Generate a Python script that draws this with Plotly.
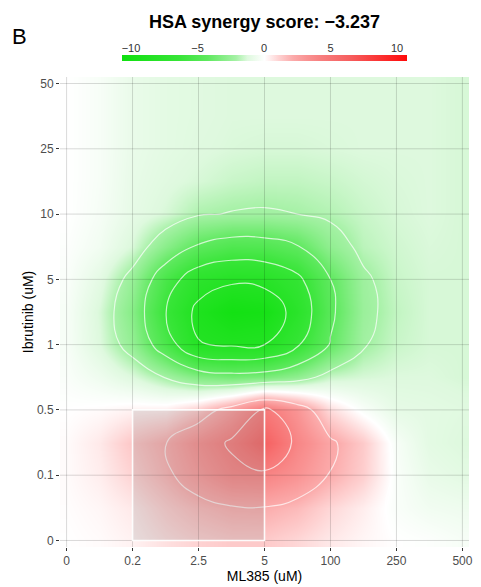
import plotly.graph_objects as go

# Tested concentrations (uM)
ml385 = ["0", "0.2", "2.5", "5", "100", "250", "500"]
ibrutinib = ["0", "0.1", "0.5", "1", "5", "10", "25", "50"]

hsa_score = -3.237

# Synergy surface sampled at half-steps between the tested doses
x_steps = [0, 0.5, 1, 1.5, 2, 2.5, 3, 3.5, 4, 4.5, 5, 5.5, 6]
y_steps = [0, 0.5, 1, 1.5, 2, 2.5, 3, 3.5, 4, 4.5, 5, 5.5, 6, 6.5, 7]
synergy = [
    [0.0, 0.1, 0.3, 0.7, 1.0, 1.2, 1.2, 0.9, 0.5, 0.2, 0.0, -0.1, -0.3],
    [0.05, 0.2, 0.5, 1.1, 1.6, 1.9, 1.95, 1.6, 0.9, 0.4, -0.2, -0.5, -0.6],
    [0.1, 0.4, 1.0, 1.75, 2.7, 3.6, 3.7, 3.0, 1.95, 1.1, -0.2, -0.8, -1.0],
    [0.1, 0.5, 1.3, 1.95, 3.2, 4.2, 5.8, 3.6, 2.2, 1.2, -0.3, -1.0, -1.2],
    [0.0, 0.1, 0.3, 0.4, 1.2, 2.6, 4.3, 2.9, 0.8, -0.2, -0.9, -1.0, -1.1],
    [-0.2, -0.6, -1.2, -2.05, -3.0, -3.4, -3.2, -2.6, -1.5, -1.3, -1.2, -1.2, -1.3],
    [-0.3, -1.2, -2.5, -5.0, -7.9, -8.2, -8.0, -6.2, -3.9, -2.1, -1.5, -1.3, -1.3],
    [-0.3, -1.3, -2.9, -5.95, -8.5, -9.6, -9.3, -7.3, -4.3, -2.3, -1.6, -1.3, -1.3],
    [-0.2, -1.0, -2.4, -5.1, -7.1, -7.7, -7.5, -6.4, -4.0, -2.2, -1.5, -1.3, -1.3],
    [-0.1, -0.5, -1.3, -2.8, -4.2, -4.8, -4.7, -4.1, -2.6, -1.7, -1.4, -1.25, -1.3],
    [0.0, -0.35, -0.9, -1.3, -1.9, -2.05, -2.1, -2.0, -1.8, -1.5, -1.3, -1.2, -1.3],
    [0.0, -0.3, -0.85, -1.1, -1.3, -1.5, -1.6, -1.6, -1.5, -1.35, -1.25, -1.2, -1.3],
    [0.0, -0.3, -0.8, -1.0, -1.15, -1.25, -1.3, -1.3, -1.25, -1.2, -1.2, -1.2, -1.3],
    [0.0, -0.3, -0.8, -1.0, -1.1, -1.2, -1.2, -1.2, -1.2, -1.2, -1.2, -1.2, -1.3],
    [0.0, -0.3, -0.8, -1.0, -1.1, -1.2, -1.2, -1.2, -1.2, -1.2, -1.2, -1.2, -1.3],
]

# Most synergistic area
box_x = ("0.2", "5")
box_y = ("0", "0.5")

bar_ticks = [-10, -5, 0, 5, 10]

colorscale = [
    [0.0, "rgb(15,224,15)"],
    [0.2, "rgb(55,229,55)"],
    [0.3, "rgb(95,233,95)"],
    [0.4, "rgb(165,241,165)"],
    [0.44, "rgb(222,249,222)"],
    [0.5, "rgb(255,255,255)"],
    [0.55, "rgb(254,210,210)"],
    [0.6, "rgb(251,170,170)"],
    [0.65, "rgb(249,146,146)"],
    [0.7, "rgb(247,126,126)"],
    [0.8, "rgb(246,94,94)"],
    [1.0, "rgb(255,10,10)"],
]

FONT = "Liberation Sans, Arial, sans-serif"
W, H = 481, 587
ML, MR, MT, MB = 60, 6, 20, 40
plot_h = H - MT - MB
plot_w = W - ML - MR
panel_top_px = 77          # top of the heatmap panel
panel_frac = (H - MB - panel_top_px) / plot_h


def py(px_from_top):
    return (H - MB - px_from_top) / plot_h


def px_x(px_from_left):
    return (px_from_left - ML) / plot_w


fig = go.Figure()

fig.add_trace(go.Heatmap(
    x=x_steps, y=y_steps, z=synergy,
    zsmooth="best", zmin=-10, zmax=10,
    colorscale=colorscale,
    hoverinfo="skip",
    colorbar=dict(
        orientation="h",
        thickness=6,
        len=285, lenmode="pixels",
        x=0.5, xanchor="center",
        y=py(58), yanchor="middle",
        xpad=0, ypad=0,
        outlinewidth=0,
        showticklabels=False,
        ticks="",
    ),
))

fig.add_trace(go.Contour(
    x=x_steps, y=y_steps, z=synergy,
    contours=dict(start=-8, end=8, size=2, coloring="none"),
    line=dict(color="rgba(255,255,255,0.7)", width=1.2, smoothing=1.3),
    showscale=False,
    hoverinfo="skip",
))

# invisible carrier so the colour-bar label axis is drawn
fig.add_trace(go.Scatter(
    x=bar_ticks, y=[0.5] * len(bar_ticks),
    xaxis="x2", yaxis="y2", mode="markers",
    marker=dict(size=1, opacity=0), hoverinfo="skip", showlegend=False,
))

shapes = []
# grid lines drawn over the surface
for k in range(len(ml385)):
    shapes.append(dict(type="line", xref="x", yref="y domain", x0=k, x1=k, y0=0, y1=1,
                       line=dict(color="rgba(0,0,0,0.15)", width=1), layer="above"))
for k in range(len(ibrutinib)):
    shapes.append(dict(type="line", xref="x domain", yref="y", x0=0, x1=1, y0=k, y1=k,
                       line=dict(color="rgba(0,0,0,0.15)", width=1), layer="above"))
shapes.append(dict(
    type="rect", xref="x", yref="y",
    x0=ml385.index(box_x[0]), x1=ml385.index(box_x[1]),
    y0=ibrutinib.index(box_y[0]), y1=ibrutinib.index(box_y[1]),
    fillcolor="rgba(128,128,128,0.2)",
    line=dict(color="rgba(255,255,255,0.95)", width=1.6),
    layer="above",
))

tickfont = dict(family=FONT, size=12, color="#4d4d4d")

fig.update_layout(
    width=W, height=H,
    margin=dict(l=ML, r=MR, t=MT, b=MB),
    paper_bgcolor="white",
    plot_bgcolor="white",
    font=dict(family=FONT),
    showlegend=False,
    title=dict(
        text=f"<b>HSA synergy score: {hsa_score:.3f}</b>".replace("-", "\u2212"),
        x=0.5, xref="paper", xanchor="center",
        y=1 - 22 / H, yref="container", yanchor="middle",
        font=dict(family=FONT, size=18, color="black"),
    ),
    xaxis=dict(
        domain=[0, 1],
        range=[-0.1, 6.1],
        tickvals=list(range(len(ml385))), ticktext=ml385,
        ticks="outside", ticklen=3, tickcolor="#333333", tickwidth=1,
        showgrid=False, zeroline=False, showline=False,
        tickfont=tickfont,
        title=dict(text="ML385 (uM)", font=dict(family=FONT, size=14, color="black"), standoff=3),
        fixedrange=True,
    ),
    yaxis=dict(
        domain=[0, panel_frac],
        range=[-0.1, 7.1],
        tickvals=list(range(len(ibrutinib))), ticktext=ibrutinib,
        ticks="outside", ticklen=3, tickcolor="#333333", tickwidth=1,
        showgrid=False, zeroline=False, showline=False,
        tickfont=tickfont,
        title=dict(text="Ibrutinib (uM)", font=dict(family=FONT, size=14, color="black"), standoff=0),
        fixedrange=True,
    ),
    # axis carrying the colour bar labels
    xaxis2=dict(
        domain=[px_x(132), px_x(402)],
        range=[bar_ticks[0], bar_ticks[-1]],
        anchor="y2", side="top",
        tickvals=bar_ticks,
        ticks="", showgrid=False, zeroline=False, showline=False,
        tickfont=dict(family=FONT, size=11, color="#333333"),
        fixedrange=True,
    ),
    yaxis2=dict(
        domain=[py(61), py(55)],
        range=[0, 1], visible=False, fixedrange=True,
    ),
    shapes=shapes,
    annotations=[dict(
        text="B", xref="paper", yref="paper",
        x=px_x(9), y=py(36), xanchor="left", yanchor="middle",
        showarrow=False, font=dict(family=FONT, size=22, color="black"),
    )],
)

fig.write_html("out.html")
